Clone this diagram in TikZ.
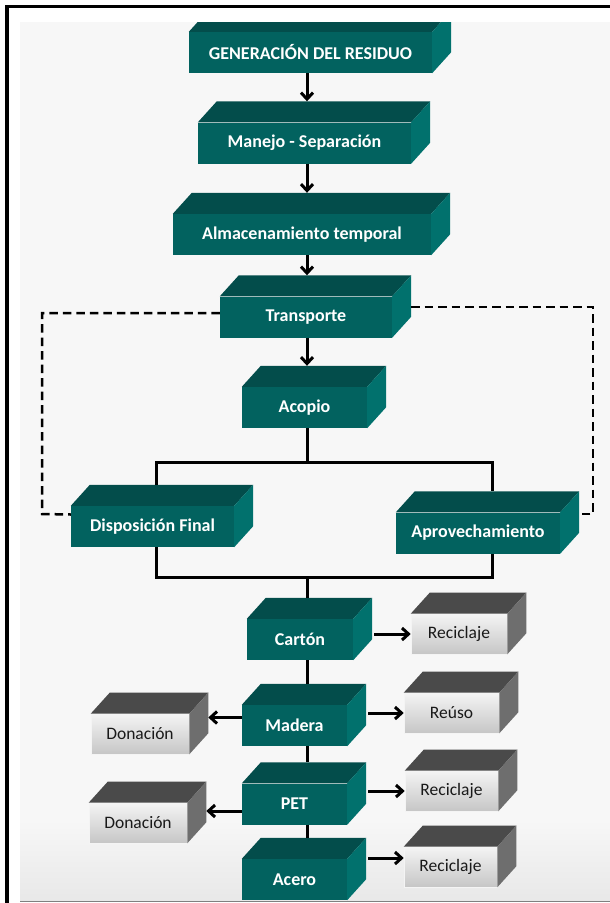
\documentclass[tikz,border=0pt]{standalone}
\usepackage{fontspec}
\setmainfont{Carlito}
\usetikzlibrary{arrows.meta,calc}

\definecolor{fondo}{HTML}{F7F7F7}
\definecolor{frente}{HTML}{02625F}
\definecolor{tapa}{HTML}{034D4B}
\definecolor{lado}{HTML}{01716D}
\definecolor{grisclaro}{HTML}{F4F4F4}
\definecolor{grismedio}{HTML}{C6C6C6}
\definecolor{tapagris}{HTML}{4A4A4A}
\definecolor{ladogris}{HTML}{6E6E6E}

\tikzset{
  etapa/.style={fill=frente, text=white, inner sep=0pt, minimum height=41pt,
    font=\bfseries\fontsize{18}{20}\selectfont},
  destino/.style={top color=grisclaro, bottom color=grismedio, draw=grisclaro,
    line width=0.6pt, text=black!90, inner sep=0pt, minimum height=40pt,
    font=\fontsize{17.5}{20}\selectfont},
  linea/.style={line width=3pt, black},
  flecha/.style={linea, -{Straight Barb[length=6.5pt,width=12pt]}},
  trazos/.style={line width=2.5pt, black, dash pattern=on 8.5pt off 5pt},
}

\begin{document}
\begin{tikzpicture}[x=1pt,y=-1pt]
  \useasboundingbox (0,0) rectangle (610,903);
  % marco exterior
  \draw[line width=3.5pt] (5,6.5) -- (610,6.5);
  \draw[line width=3.5pt] (7,5) -- (7,903);
  \fill[fondo] (20,22) rectangle (610,901);
  \shade[top color=fondo, bottom color=fondo!94!black] (20,820) rectangle (610,901);
  \draw[gray, line width=1.5pt] (20,901.5) -- (610,901.5);

  \begin{scope}
  \clip (20,22) rectangle (610,901);
  % etapas
  \node[etapa, minimum width=243pt] (gen) at (310.5,52.5) {GENERACIÓN DEL RESIDUO};
  \node[etapa, minimum width=213pt] (manejo) at (304.5,143) {Manejo - Separación};
  \node[etapa, minimum width=258pt] (almac) at (302,234.5) {Almacenamiento temporal};
  \node[etapa, minimum width=172pt] (transp) at (306,317) {Transporte};
  \node[etapa, minimum width=125pt] (acopio) at (304.5,407.5) {Acopio};
  \node[etapa, minimum width=163pt] (disp) at (152.5,526.5) {Disposición Final};
  \node[etapa, minimum width=164pt] (aprov) at (478,533) {Aprovechamiento};
  \node[etapa, minimum width=106pt] (carton) at (300,639.5) {Cartón};
  \node[etapa, minimum width=105pt] (madera) at (294.5,725.5) {Madera};
  \node[etapa, minimum width=105pt] (pet) at (294.5,804) {PET};
  \node[etapa, minimum width=105pt] (acero) at (294.5,879.5) {Acero};
  % destinos
  \node[destino, minimum width=96pt] (rec1) at (459,634) {Reciclaje};
  \node[destino, minimum width=95pt] (reuso) at (451.5,713) {Reúso};
  \node[destino, minimum width=93pt] (rec2) at (451.5,791) {Reciclaje};
  \node[destino, minimum width=93pt] (rec3) at (450.5,867) {Reciclaje};
  \node[destino, minimum width=98pt] (don1) at (140,734) {Donación};
  \node[destino, minimum width=98pt] (don2) at (138,823) {Donación};

  % caras de los prismas
  \foreach \n in {gen,manejo,almac,transp,acopio,disp,aprov,carton,madera,pet,acero}{
    \fill[tapa] (\n.north west) -- ++(19pt,21pt) -- ([shift={(19pt,21pt)}]\n.north east) -- (\n.north east) -- cycle;
    \fill[lado] (\n.north east) -- ++(19pt,21pt) -- ([shift={(19pt,21pt)}]\n.south east) -- (\n.south east) -- cycle;
  }
  \foreach \n in {rec1,reuso,rec2,rec3,don1,don2}{
    \fill[tapagris] (\n.north west) -- ++(19pt,21pt) -- ([shift={(19pt,21pt)}]\n.north east) -- (\n.north east) -- cycle;
    \fill[ladogris] (\n.north east) -- ++(19pt,21pt) -- ([shift={(19pt,21pt)}]\n.south east) -- (\n.south east) -- cycle;
  }

  \coordinate (eje) at (307,0);
  \coordinate (bi) at (156,462);
  \coordinate (bd) at (492,462);
  \coordinate (ci) at (156,577);
  \coordinate (cd) at (492,577);
  \coordinate (esqizq) at (42,514);
  \coordinate (esqder) at (593,514);

  % flujo principal
  \draw[flecha] (gen.south -| eje) -- ($(manejo.north -| eje)+(0,-21)$);
  \draw[flecha] (manejo.south -| eje) -- ($(almac.north -| eje)+(0,-21)$);
  \draw[flecha] (almac.south -| eje) -- ($(transp.north -| eje)+(0,-21)$);
  \draw[flecha] (transp.south -| eje) -- ($(acopio.north -| eje)+(0,-21)$);
  \draw[linea] (acopio.south -| eje) -- (eje |- bi);
  \draw[linea] ($(disp.north -| bi)+(0,-21)$) -- (bi) -- (bd) -- ($(aprov.north -| bd)+(0,-21)$);
  \draw[linea] (disp.south -| ci) -- (ci) -- (cd) -- (aprov.south -| cd);
  \draw[linea] (eje |- ci) -- ($(carton.north -| eje)+(0,-21)$);
  \draw[linea] (carton.south -| eje) -- ($(madera.north -| eje)+(0,-21)$);
  \draw[linea] (madera.south -| eje) -- ($(pet.north -| eje)+(0,-21)$);
  \draw[linea] (pet.south -| eje) -- ($(acero.north -| eje)+(0,-21)$);

  % retornos
  \draw[trazos] ($(transp.west)+(0,-4)$) -| (esqizq) -- ($(disp.west)+(0,-12)$);
  \draw[trazos] ($(transp.east)+(19,-10)$) -| (esqder) -- ($(aprov.east)+(19,-19)$);

  % materiales
  \draw[flecha] ($(carton.east |- rec1.west)+(21,0)$) -- (rec1.west);
  \draw[flecha] ($(madera.east |- reuso.west)+(21,0)$) -- (reuso.west);
  \draw[flecha] ($(pet.east |- rec2.west)+(21,0)$) -- (rec2.west);
  \draw[flecha] ($(acero.east |- rec3.west)+(21,-9)$) -- ($(rec3.west)+(0,-9)$);
  \draw[flecha] ($(madera.west)+(0,-8)$) -- ($(don1.east |- madera.west)+(19,-8)$);
  \draw[flecha] ($(pet.west)+(0,7)$) -- ($(don2.east |- pet.west)+(19,7)$);
  \end{scope}
\end{tikzpicture}
\end{document}
